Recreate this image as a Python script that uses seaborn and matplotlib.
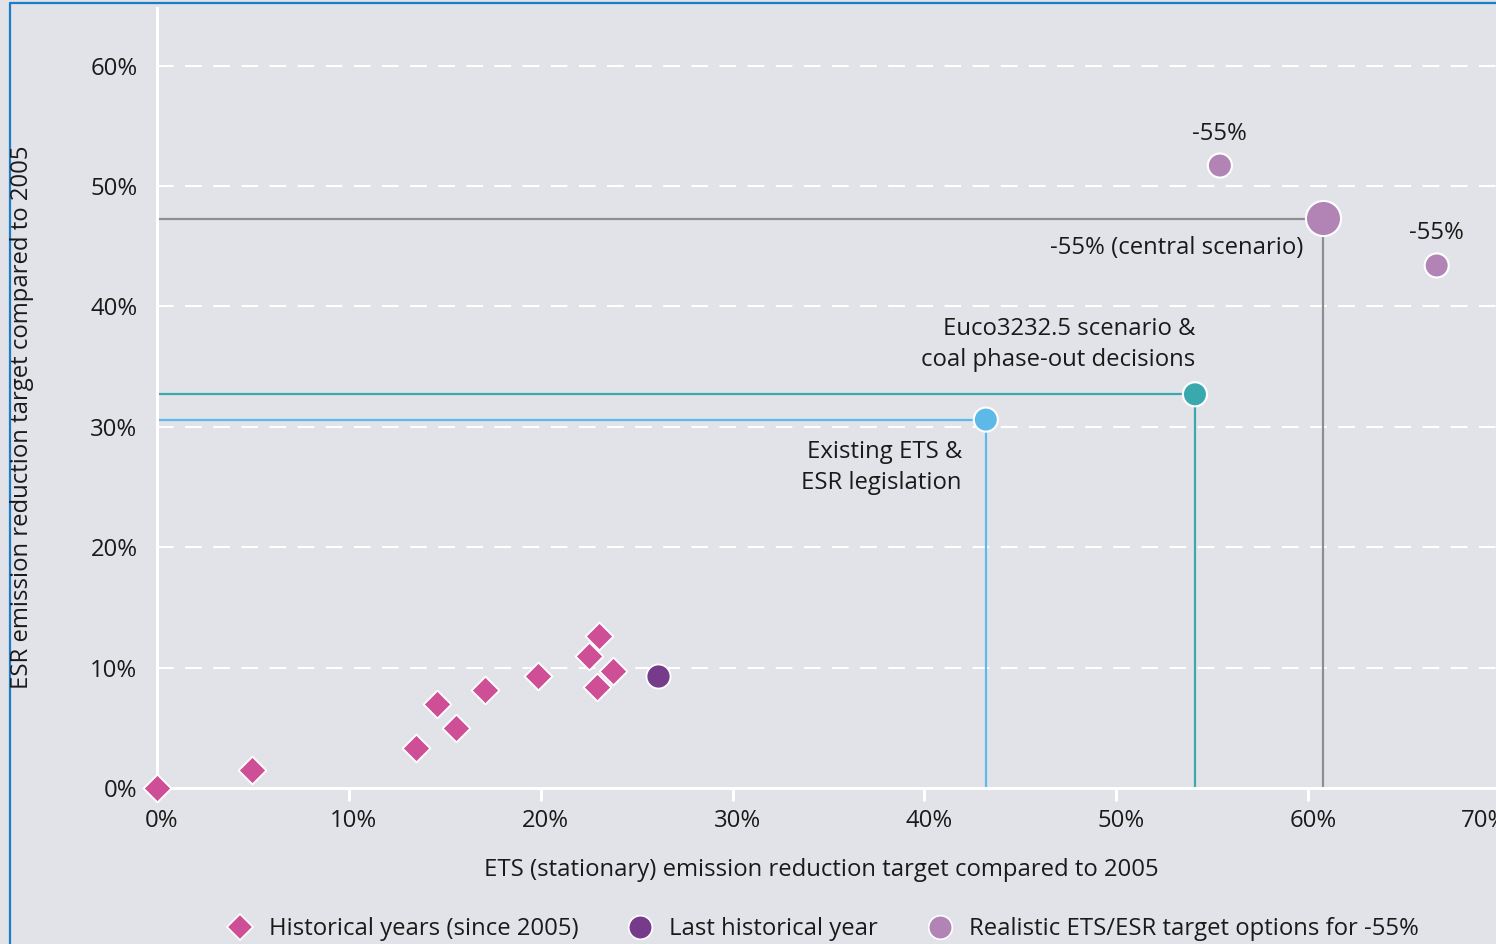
import matplotlib
matplotlib.use("Agg")
import matplotlib.pyplot as plt
import matplotlib.transforms as mtransforms
import seaborn as sns
import pandas as pd
from matplotlib.lines import Line2D

# ---- data ----
hist_ets = [0.0, 4.95, 13.5, 14.6, 15.6, 17.1, 19.85, 22.5, 23.05, 22.95, 23.75]
hist_esr = [0.0, 1.5, 3.3, 7.0, 5.0, 8.1, 9.3, 11.0, 12.6, 8.4, 9.7]
last_ets = [26.1]
last_esr = [9.3]
opt_ets = [55.4, 60.8, 66.7]
opt_esr = [51.7, 47.3, 43.4]
opt_labels = ["-55%", "-55% (central scenario)", "-55%"]
scen_names = ["Existing ETS &\nESR legislation", "Euco3232.5 scenario &\ncoal phase-out decisions"]
scen_ets = [43.2, 54.1]
scen_esr = [30.6, 32.7]
legend_labels = ["Historical years (since 2005)", "Last historical year",
                 "Realistic ETS/ESR target options for -55%"]
xticks = [0, 10, 20, 30, 40, 50, 60, 70]
yticks = [0, 10, 20, 30, 40, 50, 60]
xlabel = "ETS (stationary) emission reduction target compared to 2005"
ylabel = "ESR emission reduction target compared to 2005"

BG = "#e2e3e8"
C_HIST = "#cf4f97"
C_LAST = "#773b8b"
C_OPT = "#b184b5"
C_CENTRAL = "#8e8e8e"
C_EUCO = "#3aa9ae"
C_EXIST = "#5cb9e8"
TXT = "#1a1a1a"

sns.set_theme(style="white")
plt.rcParams["font.family"] = ["Open Sans", "DejaVu Sans"]
plt.rcParams["text.color"] = TXT

W, H = 1496, 944
fig = plt.figure(figsize=(W / 100, H / 100), dpi=100, facecolor=BG)
x0, x1 = 157, 1500
y0, y1 = 8, 788
ax = fig.add_axes([x0 / W, 1 - y1 / H, (x1 - x0) / W, (y1 - y0) / H])
ax.set_facecolor(BG)
ax.set_xlim(0, 70)
ax.set_ylim(0, (788 - 8) / 12.04)

# grid
for yv in yticks[1:]:
    ax.axhline(yv, color="white", lw=1.5, ls=(0, (8, 5.5)), zorder=1)

# reference L-lines
ax.plot([0, opt_ets[1], opt_ets[1]], [opt_esr[1], opt_esr[1], 0], color=C_CENTRAL, lw=1.6, zorder=2)
ax.plot([0, scen_ets[1], scen_ets[1]], [scen_esr[1], scen_esr[1], 0], color=C_EUCO, lw=1.6, zorder=2)
ax.plot([0, scen_ets[0], scen_ets[0]], [scen_esr[0], scen_esr[0], 0], color=C_EXIST, lw=1.6, zorder=2)

df_hist = pd.DataFrame({"ets": hist_ets, "esr": hist_esr})
sns.scatterplot(data=df_hist, x="ets", y="esr", marker="D", s=200, color=C_HIST,
                edgecolor="white", linewidth=1.3, ax=ax, zorder=4, clip_on=False)
df_last = pd.DataFrame({"ets": last_ets, "esr": last_esr})
sns.scatterplot(data=df_last, x="ets", y="esr", marker="o", s=300, color=C_LAST,
                edgecolor="white", linewidth=1.3, ax=ax, zorder=4)
df_opt = pd.DataFrame({"ets": opt_ets, "esr": opt_esr, "size": [300, 640, 300]})
ax.scatter(df_opt["ets"], df_opt["esr"], s=df_opt["size"], color=C_OPT,
           edgecolor="white", linewidth=1.5, zorder=4)
ax.scatter(scen_ets, scen_esr, s=300, color=[C_EXIST, C_EUCO],
           edgecolor="white", linewidth=1.5, zorder=4)

fs = 17.2
k = 0.72  # px -> pt
ax.annotate(opt_labels[0], (opt_ets[0], opt_esr[0]), xytext=(0, 32 * k), textcoords="offset points",
            ha="center", va="center", fontsize=fs)
ax.annotate(opt_labels[1], (opt_ets[1], opt_esr[1]), xytext=(-20 * k, -29 * k), textcoords="offset points",
            ha="right", va="center", fontsize=fs)
ax.annotate(opt_labels[2], (opt_ets[2], opt_esr[2]), xytext=(0, 32 * k), textcoords="offset points",
            ha="center", va="center", fontsize=fs)
ax.annotate(scen_names[1], (scen_ets[1], scen_esr[1]), xytext=(0, 50 * k), textcoords="offset points",
            ha="right", va="center", multialignment="right", fontsize=fs, linespacing=1.38)
ax.annotate(scen_names[0], (scen_ets[0], scen_esr[0]), xytext=(-24 * k, -48 * k), textcoords="offset points",
            ha="right", va="center", multialignment="right", fontsize=fs, linespacing=1.38)

# axes styling
for s in ["top", "right"]:
    ax.spines[s].set_visible(False)
for s in ["left", "bottom"]:
    ax.spines[s].set_color("white")
    ax.spines[s].set_linewidth(2.2)
ax.set_xticks(xticks)
ax.set_xticklabels([f"{v}%" for v in xticks])
ax.set_yticks(yticks)
ax.set_yticklabels([f"{v}%" for v in yticks])
ax.tick_params(axis="x", length=9, width=2.2, color="white", pad=6, labelsize=fs, labelcolor=TXT,
               direction="out", bottom=True)
ax.tick_params(axis="y", length=0, pad=14, labelsize=fs, labelcolor=TXT, left=True)
ax.set_xlabel("")
ax.set_ylabel("")
for i, lab in enumerate(ax.get_xticklabels()):
    dx = 5 if i < len(xticks) - 1 else -15
    lab.set_transform(lab.get_transform() + mtransforms.ScaledTranslation(dx / 100, 0, fig.dpi_scale_trans))

fig.text(821 / W, 1 - 870 / H, xlabel, ha="center", va="center", fontsize=fs)
fig.text(22 / W, 1 - 417 / H, ylabel, ha="center", va="center", rotation=90, fontsize=fs)

# legend
handles = [
    Line2D([], [], ls="none", marker="D", markersize=13, markerfacecolor=C_HIST, markeredgecolor="white", markeredgewidth=1.2),
    Line2D([], [], ls="none", marker="o", markersize=17, markerfacecolor=C_LAST, markeredgecolor="white", markeredgewidth=1.2),
    Line2D([], [], ls="none", marker="o", markersize=17, markerfacecolor=C_OPT, markeredgecolor="white", markeredgewidth=1.2),
]
fig.legend(handles, legend_labels, loc="center", bbox_to_anchor=(822 / W, 1 - 929 / H), ncol=3,
           frameon=False, fontsize=fs, handletextpad=0.6, columnspacing=2.0, handlelength=1.2)

# border
fig.add_artist(Line2D([10 / W, 10 / W], [0, 1 - 3 / H], color="#1d7cc8", lw=1.6))
fig.add_artist(Line2D([10 / W, 1], [1 - 3 / H, 1 - 3 / H], color="#1d7cc8", lw=1.6))

fig.savefig("out.png", dpi=100, facecolor=BG)
